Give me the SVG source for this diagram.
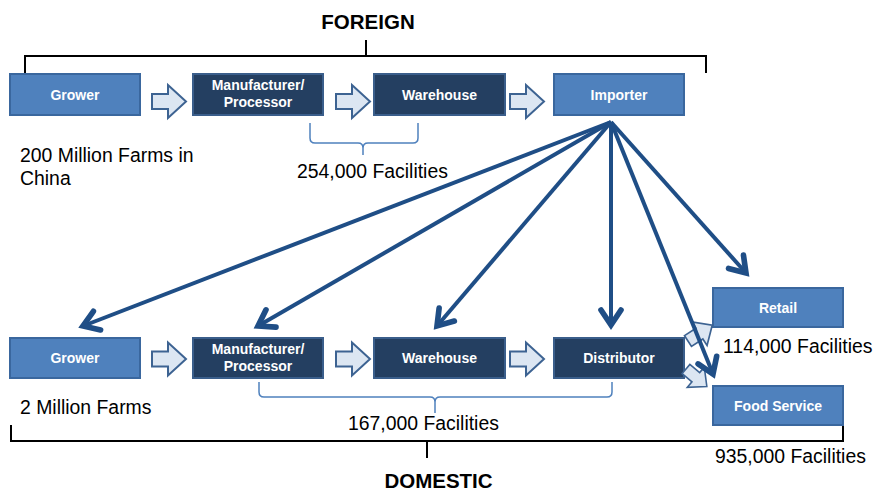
<svg xmlns="http://www.w3.org/2000/svg" width="876" height="491" viewBox="0 0 876 491">
<style>
.lb{fill:#4F81BD;stroke:#3A679E;stroke-width:2}
.dk{fill:#243F61;stroke:#3A5E8B;stroke-width:2}
.bt{font-family:"Liberation Sans",Arial,sans-serif;font-weight:bold;font-size:14px;fill:#fff;text-anchor:middle}
.tx{font-family:"Liberation Sans",Arial,sans-serif;font-size:19.4px;fill:#000}
.hd{font-family:"Liberation Sans",Arial,sans-serif;font-weight:bold;font-size:20.5px;fill:#000;text-anchor:middle}
.br{fill:none;stroke:#000;stroke-width:2}
.bb{fill:none;stroke:#4F81BD;stroke-width:1.5}
.fan{stroke:#1F4E86;stroke-width:4;fill:none;marker-end:url(#ah)}
.ba{fill:#DCE6F2;stroke:#3D6392;stroke-width:2;stroke-linejoin:miter}
</style>
<defs>
<marker id="ah" markerUnits="userSpaceOnUse" markerWidth="30" markerHeight="30" viewBox="-16 -12 20 24" refX="0" refY="0" orient="auto">
<path d="M-12,-8 L0,0 L-12,8" fill="none" stroke="#1F4E86" stroke-width="4.5" stroke-linecap="round"/>
</marker>
<path id="blk" d="M0,-7.5 H16 V-16.5 L34,0 L16,16.5 V7.5 H0 Z"/>
</defs>

<text class="hd" x="368" y="28.5">FOREIGN</text>
<path class="br" d="M25,73 V56 H706 V73 M366,40 V56"/>
<text class="hd" x="438.5" y="488">DOMESTIC</text>
<path class="br" d="M11,425 V441 H843 V424 M427,441 V458"/>

<path class="bb" d="M310,123 V138 Q310,143 315,143 H358 Q363,143 363,148 V155 M363,148 Q363,143 368,143 H413 Q418,143 418,138 V123"/>
<path class="bb" d="M259,382 V392 Q259,397 264,397 H430 Q435,397 435,402 V413 M435,402 Q435,397 440,397 H607 Q612,397 612,392 V382"/>

<g id="f-grower"><rect class="lb" x="10" y="74" width="130" height="41"/><text class="bt" x="75" y="99.5">Grower</text></g>
<g id="f-manufacturer"><rect class="dk" x="193" y="74" width="130" height="41"/><text class="bt" x="258" y="90">Manufacturer/</text><text class="bt" x="258" y="107">Processor</text></g>
<g id="f-warehouse"><rect class="dk" x="374" y="74" width="131" height="41"/><text class="bt" x="439.5" y="99.5">Warehouse</text></g>
<g id="f-importer"><rect class="lb" x="554" y="74" width="130" height="41"/><text class="bt" x="619" y="99.5">Importer</text></g>

<g id="d-grower"><rect class="lb" x="10" y="338" width="130" height="40"/><text class="bt" x="75" y="363">Grower</text></g>
<g id="d-manufacturer"><rect class="dk" x="193" y="338" width="130" height="40"/><text class="bt" x="258" y="354">Manufacturer/</text><text class="bt" x="258" y="371">Processor</text></g>
<g id="d-warehouse"><rect class="dk" x="374" y="338" width="131" height="40"/><text class="bt" x="439.5" y="363">Warehouse</text></g>
<g id="d-distributor"><rect class="dk" x="554" y="338" width="130" height="40"/><text class="bt" x="619" y="363">Distributor</text></g>
<g id="d-retail"><rect class="lb" x="713" y="288" width="130" height="39"/><text class="bt" x="778" y="312.5">Retail</text></g>
<g id="d-foodservice"><rect class="lb" x="713" y="386" width="130" height="39"/><text class="bt" x="778" y="410.5">Food Service</text></g>

<text class="tx" x="20" y="162">200 Million Farms in</text>
<text class="tx" x="20" y="185">China</text>
<text class="tx" x="297" y="178">254,000 Facilities</text>
<text class="tx" x="20" y="414">2 Million Farms</text>
<text class="tx" x="348" y="430">167,000 Facilities</text>
<text class="tx" x="723" y="353">114,000 Facilities</text>
<text class="tx" x="715" y="463">935,000 Facilities</text>

<g id="connectors">
<use href="#blk" class="ba" x="152" y="101.5"/>
<use href="#blk" class="ba" x="336" y="101.5"/>
<use href="#blk" class="ba" x="510" y="101.5"/>
<use href="#blk" class="ba" x="152" y="359"/>
<use href="#blk" class="ba" x="336" y="359"/>
<use href="#blk" class="ba" x="510" y="359"/>
<use href="#blk" class="ba" transform="translate(688,341) rotate(-33) scale(0.85)"/>
<use href="#blk" class="ba" transform="translate(686,369) rotate(40) scale(0.8)"/>
<line class="fan" x1="611" y1="122" x2="83" y2="326"/>
<line class="fan" x1="611" y1="122" x2="258" y2="326"/>
<line class="fan" x1="611" y1="122" x2="437" y2="326"/>
<line class="fan" x1="611" y1="122" x2="611" y2="325"/>
<line class="fan" x1="611" y1="122" x2="713" y2="374"/>
<line class="fan" x1="611" y1="122" x2="746" y2="273"/>
</g>
</svg>
